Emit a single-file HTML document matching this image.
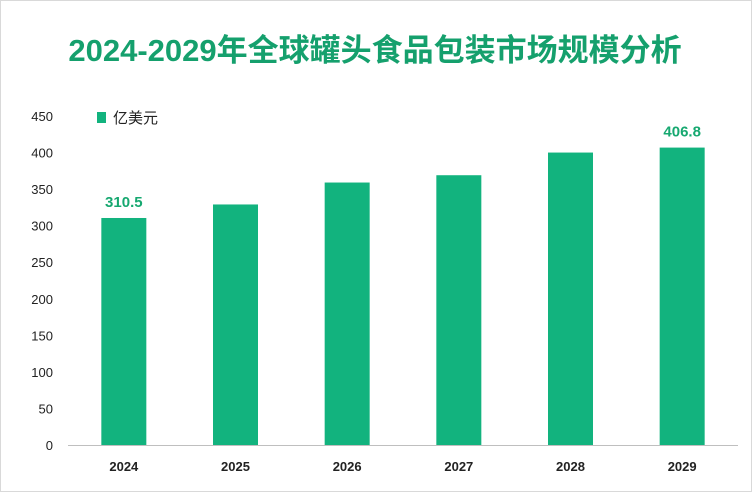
<!DOCTYPE html>
<html><head><meta charset="utf-8"><style>
body{margin:0;background:#fff;}
#wrap{position:relative;width:750px;height:490px;border:1px solid #d9d9d9;background:#fff;overflow:hidden;font-family:"Liberation Sans","Noto Sans CJK SC",sans-serif;}
svg text{font-family:"Liberation Sans","Noto Sans CJK SC",sans-serif;}
</style></head><body>
<div id="wrap">
<svg id="chart" width="750" height="490">
<text x="374" y="60" text-anchor="middle" font-size="31" font-weight="bold" fill="#15a06d">2024-2029年全球罐头食品包装市场规模分析</text>
<rect x="96" y="111" width="9" height="11" fill="#12b37e"></rect>
<text x="112" y="122" font-size="15" fill="#222">亿美元</text>
<g id="axes"></g><g id="bars"></g>
</svg>
</div>
<script>
const categories=["2024","2025","2026","2027","2028","2029"];
const values=[310.5,329,359,369,400,406.8];
const labels=["310.5","","","","","406.8"];
const yTicks=[0,50,100,150,200,250,300,350,400,450];
const NS="http://www.w3.org/2000/svg";
const x0=67,x1=737,y0=444,yTop=115,yMax=450;
const band=(x1-x0)/categories.length;
function y(v){return y0-(v/yMax)*(y0-yTop);}
function xc(i){return x0+band*(i+0.5);}
function mk(t,a,p){const e=document.createElementNS(NS,t);for(const k in a)e.setAttribute(k,a[k]);p.appendChild(e);return e;}
const ax=document.getElementById('axes'),bg=document.getElementById('bars');
yTicks.forEach(v=>{
const t=mk('text',{x:52,y:y(v)+5,'text-anchor':'end','font-size':13,fill:'#222'},ax);


t.textContent=v;
});
const axl=mk('line',{x1:x0,x2:x1,y1:y0+0.5,y2:y0+0.5,stroke:'#bfbfbf'},ax);


categories.forEach((c,i)=>{
const r=mk('rect',{x:xc(i)-22.5,y:y(values[i]),width:45,height:y0-y(values[i]),fill:'#12b37e'},bg);


const t=mk('text',{x:xc(i),y:470,'text-anchor':'middle','font-size':13,'font-weight':'bold',fill:'#222'},ax);


t.textContent=c;
if(labels[i]){
const l=mk('text',{x:xc(i),y:y(values[i])-11,'text-anchor':'middle','font-size':15,'font-weight':'bold',fill:'#16a870'},bg);


l.textContent=labels[i];
}
});
</script>
</body></html>
